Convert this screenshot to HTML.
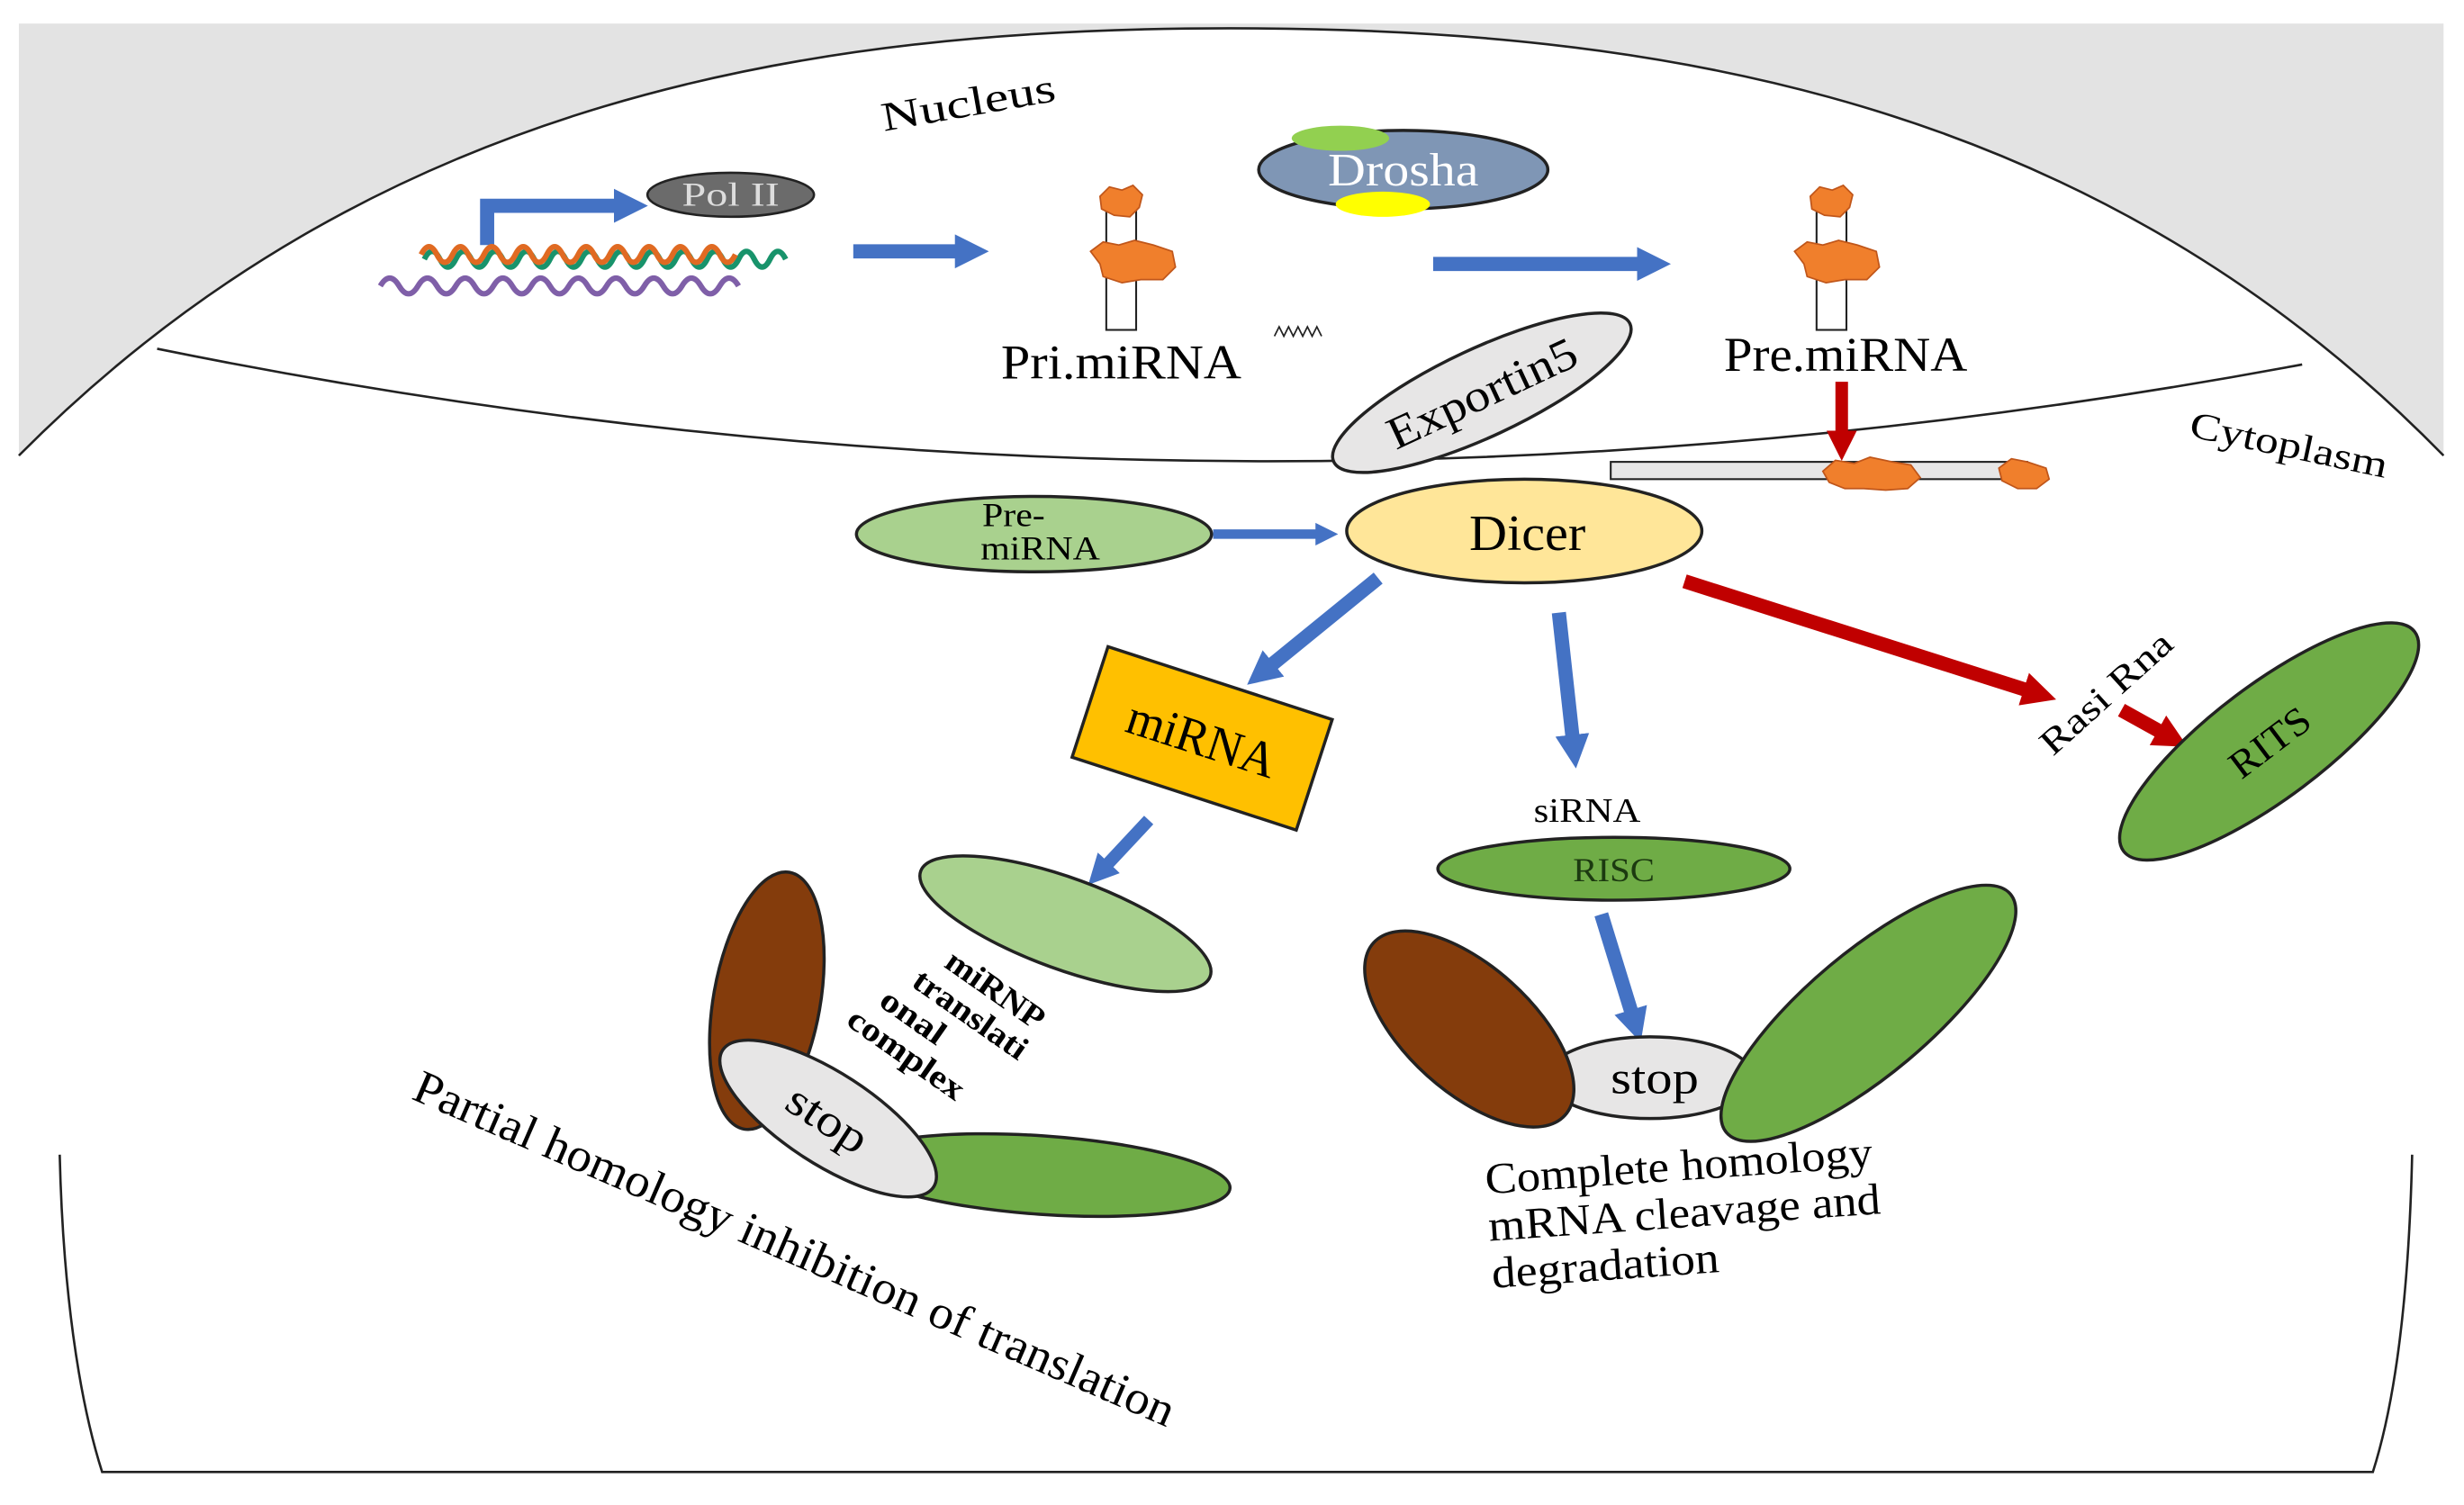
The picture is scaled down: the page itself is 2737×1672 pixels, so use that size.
<!DOCTYPE html>
<html><head><meta charset="utf-8"><style>
html,body{margin:0;padding:0;background:#fff;}
svg{display:block;}
text{font-family:"Liberation Serif",serif;}
</style></head><body>
<svg width="2737" height="1672" viewBox="0 0 1568 958" preserveAspectRatio="none" xmlns="http://www.w3.org/2000/svg">
<defs>
<marker id="bh" viewBox="0 0 10 10" refX="2" refY="5" markerWidth="2.4" markerHeight="2.6" orient="auto"><path d="M0,0 L10,5 L0,10 Z" fill="#4472c4"/></marker>
<marker id="rh" viewBox="0 0 10 10" refX="2" refY="5" markerWidth="2.4" markerHeight="2.6" orient="auto"><path d="M0,0 L10,5 L0,10 Z" fill="#c00000"/></marker>
</defs>
<rect width="1568" height="958" fill="#fff"/>
<rect x="12" y="15" width="1543" height="276" fill="#e3e3e3"/>
<path d="M12,290 C 240,60 520,18 783,18 C 1050,18 1330,60 1555,290 L1555,300 L12,300 Z" fill="#fff"/>
<path d="M12,290 C 240,60 520,18 783,18 C 1050,18 1330,60 1555,290" fill="none" stroke="#222" stroke-width="1.5"/>
<path d="M100,222 Q780,360 1465,232" fill="none" stroke="#222" stroke-width="1.5"/>
<path d="M38,735 C40,820 50,890 65,937 L1510,937 C1525,890 1533,820 1535,735" fill="none" stroke="#222" stroke-width="1.5"/>

<text x="560" y="75" font-size="26" transform="rotate(-10 610 65)" textLength="112" lengthAdjust="spacingAndGlyphs">Nucleus</text>
<text x="1390" y="290" font-size="24" transform="rotate(12 1450 295)" textLength="128" lengthAdjust="spacingAndGlyphs">Cytoplasm</text>

<!-- Pol II & DNA -->
<path d="M310,156 L310,131 L395,131" fill="none" stroke="#4472c4" stroke-width="9" marker-end="url(#bh)"/>
<ellipse cx="465" cy="124" rx="53" ry="14" fill="#6b6b6b" stroke="#222" stroke-width="1.5"/>
<text x="465" y="131" font-size="21" fill="#ddd" text-anchor="middle" textLength="62" lengthAdjust="spacingAndGlyphs">Pol II</text>
<path d="M242,182 q6,-10 12,0 t12,0 t12,0 t12,0 t12,0 t12,0 t12,0 t12,0 t12,0 t12,0 t12,0 t12,0 t12,0 t12,0 t12,0 t12,0 t12,0 t12,0 t12,0" fill="none" stroke="#7f5fa8" stroke-width="3.5"/>
<path d="M270,165 q5,-10 10,0 t10,0 t10,0 t10,0 t10,0 t10,0 t10,0 t10,0 t10,0 t10,0 t10,0 t10,0 t10,0 t10,0 t10,0 t10,0 t10,0 t10,0 t10,0 t10,0 t10,0 t10,0 t10,0" fill="none" stroke="#18936b" stroke-width="3.5"/>
<path d="M268,162 q5,-10 10,0 t10,0 t10,0 t10,0 t10,0 t10,0 t10,0 t10,0 t10,0 t10,0 t10,0 t10,0 t10,0 t10,0 t10,0 t10,0 t10,0 t10,0 t10,0 t10,0" fill="none" stroke="#e06a22" stroke-width="3.5"/>
<line x1="543" y1="160" x2="612" y2="160" stroke="#4472c4" stroke-width="9" marker-end="url(#bh)"/>

<!-- Pri-miRNA -->
<rect x="704" y="130" width="19" height="80" fill="#fff" stroke="#222" stroke-width="1.2"/>
<path d="M700,125 l6,-6 l8,2 l7,-3 l6,6 l-2,8 l-6,6 l-10,-1 l-8,-4 Z" fill="#f07f2c" stroke="#c0561a"/>
<path d="M694,160 l8,-6 l10,2 l10,-3 l12,3 l12,4 l2,10 l-8,8 l-14,0 l-12,2 l-12,-4 l-2,-8 Z" fill="#f07f2c" stroke="#c0561a"/>
<text x="637" y="241" font-size="31" textLength="153" lengthAdjust="spacingAndGlyphs">Pri.miRNA</text>
<path d="M811,214 l3,-6 l3,6 l3,-6 l3,6 l3,-6 l3,6 l3,-6 l3,6 l3,-6 l3,6" fill="none" stroke="#222" stroke-width="1"/>

<!-- Drosha -->
<ellipse cx="893" cy="108" rx="92" ry="25" fill="#7f96b5" stroke="#222" stroke-width="2"/>
<ellipse cx="853" cy="88" rx="31" ry="8" fill="#92d050"/>
<ellipse cx="880" cy="130" rx="30" ry="8" fill="#ffff00"/>
<text x="845" y="118" font-size="30" fill="#fff" textLength="96" lengthAdjust="spacingAndGlyphs">Drosha</text>
<line x1="912" y1="168" x2="1046" y2="168" stroke="#4472c4" stroke-width="9" marker-end="url(#bh)"/>

<!-- Pre-miRNA -->
<rect x="1156" y="130" width="19" height="80" fill="#fff" stroke="#222" stroke-width="1.2"/>
<path d="M1152,125 l6,-6 l8,2 l7,-3 l6,6 l-2,8 l-6,6 l-10,-1 l-8,-4 Z" fill="#f07f2c" stroke="#c0561a"/>
<path d="M1142,160 l8,-6 l10,2 l10,-3 l12,3 l12,4 l2,10 l-8,8 l-14,0 l-12,2 l-12,-4 l-2,-8 Z" fill="#f07f2c" stroke="#c0561a"/>
<text x="1097" y="236" font-size="31" textLength="155" lengthAdjust="spacingAndGlyphs">Pre.miRNA</text>

<!-- Exportin5 -->
<g transform="rotate(-25 943 250)">
<ellipse cx="943" cy="250" rx="104" ry="28" fill="#e7e6e6" stroke="#222" stroke-width="2"/>
<text x="943" y="260" font-size="29" text-anchor="middle" textLength="130" lengthAdjust="spacingAndGlyphs">Exportin5</text>
</g>
<line x1="1172" y1="243" x2="1172" y2="278" stroke="#c00000" stroke-width="8" marker-end="url(#rh)"/>
<rect x="1025" y="294" width="265" height="11" fill="#e7e6e6" stroke="#222" stroke-width="1.2"/>
<path d="M1160,300 l8,-7 l12,2 l10,-4 l14,3 l12,2 l6,8 l-8,7 l-14,1 l-14,-1 l-12,0 l-10,-4 Z" fill="#f07f2c" stroke="#c0561a"/>
<path d="M1272,298 l8,-6 l10,2 l12,4 l2,7 l-8,6 l-12,0 l-10,-5 Z" fill="#f07f2c" stroke="#c0561a"/>

<!-- Pre-miRNA ellipse & Dicer -->
<ellipse cx="658" cy="340" rx="113" ry="24" fill="#a9d18e" stroke="#222" stroke-width="2"/>
<text x="645" y="335" font-size="21" text-anchor="middle" textLength="40" lengthAdjust="spacingAndGlyphs">Pre-</text>
<text x="662" y="356" font-size="21" text-anchor="middle" textLength="76" lengthAdjust="spacingAndGlyphs">miRNA</text>
<line x1="772" y1="340" x2="840" y2="340" stroke="#4472c4" stroke-width="6" marker-end="url(#bh)"/>
<ellipse cx="970" cy="338" rx="113" ry="33" fill="#ffe699" stroke="#222" stroke-width="2"/>
<text x="935" y="350" font-size="32" textLength="74" lengthAdjust="spacingAndGlyphs">Dicer</text>

<!-- arrows from Dicer -->
<line x1="877" y1="368" x2="807" y2="425" stroke="#4472c4" stroke-width="9" marker-end="url(#bh)"/>
<line x1="992" y1="390" x2="1001" y2="472" stroke="#4472c4" stroke-width="9" marker-end="url(#bh)"/>
<line x1="1072" y1="370" x2="1292" y2="440" stroke="#c00000" stroke-width="9" marker-end="url(#rh)"/>
<line x1="1350" y1="452" x2="1377" y2="467" stroke="#c00000" stroke-width="9" marker-end="url(#rh)"/>
<text x="1342" y="448" font-size="23" transform="rotate(-42 1342 443)" text-anchor="middle" textLength="105" lengthAdjust="spacingAndGlyphs">Rasi Rna</text>

<!-- miRNA box -->
<g transform="rotate(18 765 470)">
<rect x="690" y="433" width="150" height="74" fill="#ffc000" stroke="#222" stroke-width="2"/>
<text x="765" y="481" font-size="32" text-anchor="middle" textLength="98" lengthAdjust="spacingAndGlyphs">miRNA</text>
</g>

<!-- RITS -->
<g transform="rotate(-37 1444 472)">
<ellipse cx="1444" cy="472" rx="116" ry="36" fill="#6fac46" stroke="#222" stroke-width="2"/>
<text x="1444" y="481" font-size="25" text-anchor="middle" textLength="58" lengthAdjust="spacingAndGlyphs">RITS</text>
</g>

<!-- siRNA / RISC -->
<text x="1010" y="523" font-size="22" text-anchor="middle" textLength="68" lengthAdjust="spacingAndGlyphs">siRNA</text>
<ellipse cx="1027" cy="553" rx="112" ry="20" fill="#6fac46" stroke="#222" stroke-width="2"/>
<text x="1027" y="561" font-size="21" fill="#1c3a10" text-anchor="middle" textLength="52" lengthAdjust="spacingAndGlyphs">RISC</text>
<line x1="1019" y1="582" x2="1039" y2="647" stroke="#4472c4" stroke-width="9" marker-end="url(#bh)"/>
<ellipse cx="1050" cy="686" rx="66" ry="26" fill="#e7e6e6" stroke="#222" stroke-width="2"/>
<text x="1053" y="696" font-size="29" text-anchor="middle" textLength="56" lengthAdjust="spacingAndGlyphs">stop</text>
<ellipse cx="935" cy="655" rx="82" ry="40" transform="rotate(42 935 655)" fill="#843c0c" stroke="#222" stroke-width="2"/>
<ellipse cx="1189" cy="645" rx="118" ry="39" transform="rotate(-40 1189 645)" fill="#6fac46" stroke="#222" stroke-width="2"/>
<g transform="rotate(-4 945 750)" font-size="28">
<text x="945" y="760" textLength="247" lengthAdjust="spacingAndGlyphs">Complete homology</text>
<text x="945" y="790" textLength="250" lengthAdjust="spacingAndGlyphs">mRNA cleavage and</text>
<text x="945" y="820" textLength="145" lengthAdjust="spacingAndGlyphs">degradation</text>
</g>

<!-- left complex -->
<line x1="731" y1="522" x2="703" y2="552" stroke="#4472c4" stroke-width="8" marker-end="url(#bh)"/>
<ellipse cx="678" cy="588" rx="98" ry="29" transform="rotate(20 678 588)" fill="#a9d18e" stroke="#222" stroke-width="2"/>
<ellipse cx="488" cy="637" rx="34" ry="83" transform="rotate(10 488 637)" fill="#843c0c" stroke="#222" stroke-width="2"/>
<ellipse cx="663" cy="748" rx="120" ry="25" transform="rotate(4 663 748)" fill="#6fac46" stroke="#222" stroke-width="2"/>
<g transform="rotate(33 527 712)">
<ellipse cx="527" cy="712" rx="80" ry="29" fill="#e7e6e6" stroke="#222" stroke-width="2"/>
<text x="527" y="722" font-size="29" text-anchor="middle" textLength="56" lengthAdjust="spacingAndGlyphs">stop</text>
</g>
<g transform="rotate(35 600 615)" font-size="21" font-weight="bold">
<text x="600" y="615" textLength="72" lengthAdjust="spacingAndGlyphs">miRNP</text>
<text x="590" y="637" textLength="84" lengthAdjust="spacingAndGlyphs">translati</text>
<text x="580" y="659" textLength="46" lengthAdjust="spacingAndGlyphs">onal</text>
<text x="570" y="681" textLength="86" lengthAdjust="spacingAndGlyphs">complex</text>
</g>
<text x="265" y="700" font-size="30" transform="rotate(23.5 265 690)" textLength="525" lengthAdjust="spacingAndGlyphs">Partial homology inhibition of translation</text>
</svg>
</body></html>
